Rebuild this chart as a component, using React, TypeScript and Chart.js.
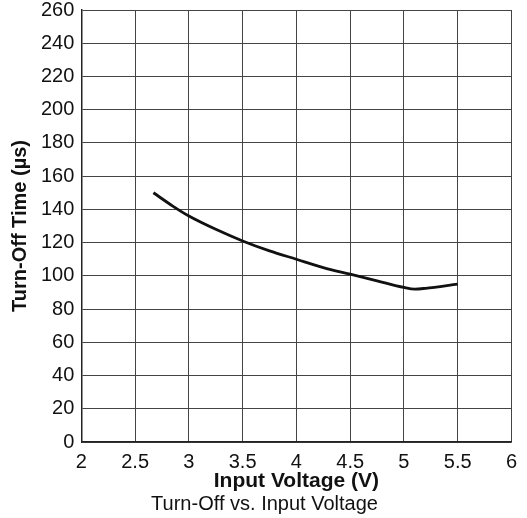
import React, { useEffect, useRef } from "react";
import { Chart, registerables } from "chart.js";

Chart.register(...registerables);

const voltage = [2.67, 2.85, 3.0, 3.25, 3.5, 3.75, 4.0, 4.25, 4.5, 4.75, 5.0, 5.1, 5.2, 5.5];
const turnOffTime = [150, 142, 136, 128, 121, 115, 110, 105, 101, 97, 93, 92, 92.5, 95];

const xTitle = "Input Voltage (V)";
const yTitle = "Turn-Off Time (µs)";
const caption = "Turn-Off vs. Input Voltage";

export default function App() {
  const ref = useRef<HTMLCanvasElement>(null);
  useEffect(() => {
    if (!ref.current) return;
    const font = "Arial, 'Liberation Sans', sans-serif";
    const chart = new Chart(ref.current, {
      type: "line",
      data: {
        datasets: [
          {
            data: voltage.map((v, i) => ({ x: v, y: turnOffTime[i] })),
            borderColor: "#111",
            borderWidth: 2.8,
            pointRadius: 0,
            cubicInterpolationMode: "monotone",
            fill: false,
          },
        ],
      },
      options: {
        animation: false,
        responsive: false,
        devicePixelRatio: 1,
        layout: { padding: { left: 10, right: 8, top: 0, bottom: 2 } },
        plugins: {
          legend: { display: false },
          tooltip: { enabled: false },
          title: {
            display: true,
            position: "bottom",
            text: caption,
            color: "#111",
            font: { family: font, size: 20, weight: "normal", lineHeight: 1.2 },
            padding: { top: 0, bottom: 0 },
          },
        },
        scales: {
          x: {
            type: "linear",
            min: 2,
            max: 6,
            ticks: {
              stepSize: 0.5,
              color: "#111",
              font: { family: font, size: 20, lineHeight: 1.0 },
              padding: 10,
              maxRotation: 0,
              callback: (v: any) => String(v),
            },
            grid: { color: "#444", lineWidth: 1, drawTicks: false },
            border: { color: "#222", width: 1.5 },
            title: {
              display: true,
              text: xTitle,
              color: "#111",
              font: { family: font, size: 21, weight: "bold", lineHeight: 1.0 },
              padding: { top: -11, bottom: 0 },
            },
          },
          y: {
            min: 0,
            max: 260,
            ticks: {
              stepSize: 20,
              color: "#111",
              font: { family: font, size: 20, lineHeight: 1.0 },
              padding: 7,
            },
            grid: { color: "#444", lineWidth: 1, drawTicks: false },
            border: { color: "#222", width: 1.5 },
            title: {
              display: true,
              text: yTitle,
              color: "#111",
              font: { family: font, size: 20, weight: "bold", lineHeight: 1.0 },
              padding: { top: 0, bottom: 4 },
            },
          },
        },
      },
    });
    return () => chart.destroy();
  }, []);
  return (
    <div style={{ position: "fixed", left: 0, top: 0, width: 527, height: 518, background: "#fff", overflow: "hidden" }}>
      <canvas ref={ref} width={527} height={525} style={{ display: "block", marginTop: -7 }} />
    </div>
  );
}
